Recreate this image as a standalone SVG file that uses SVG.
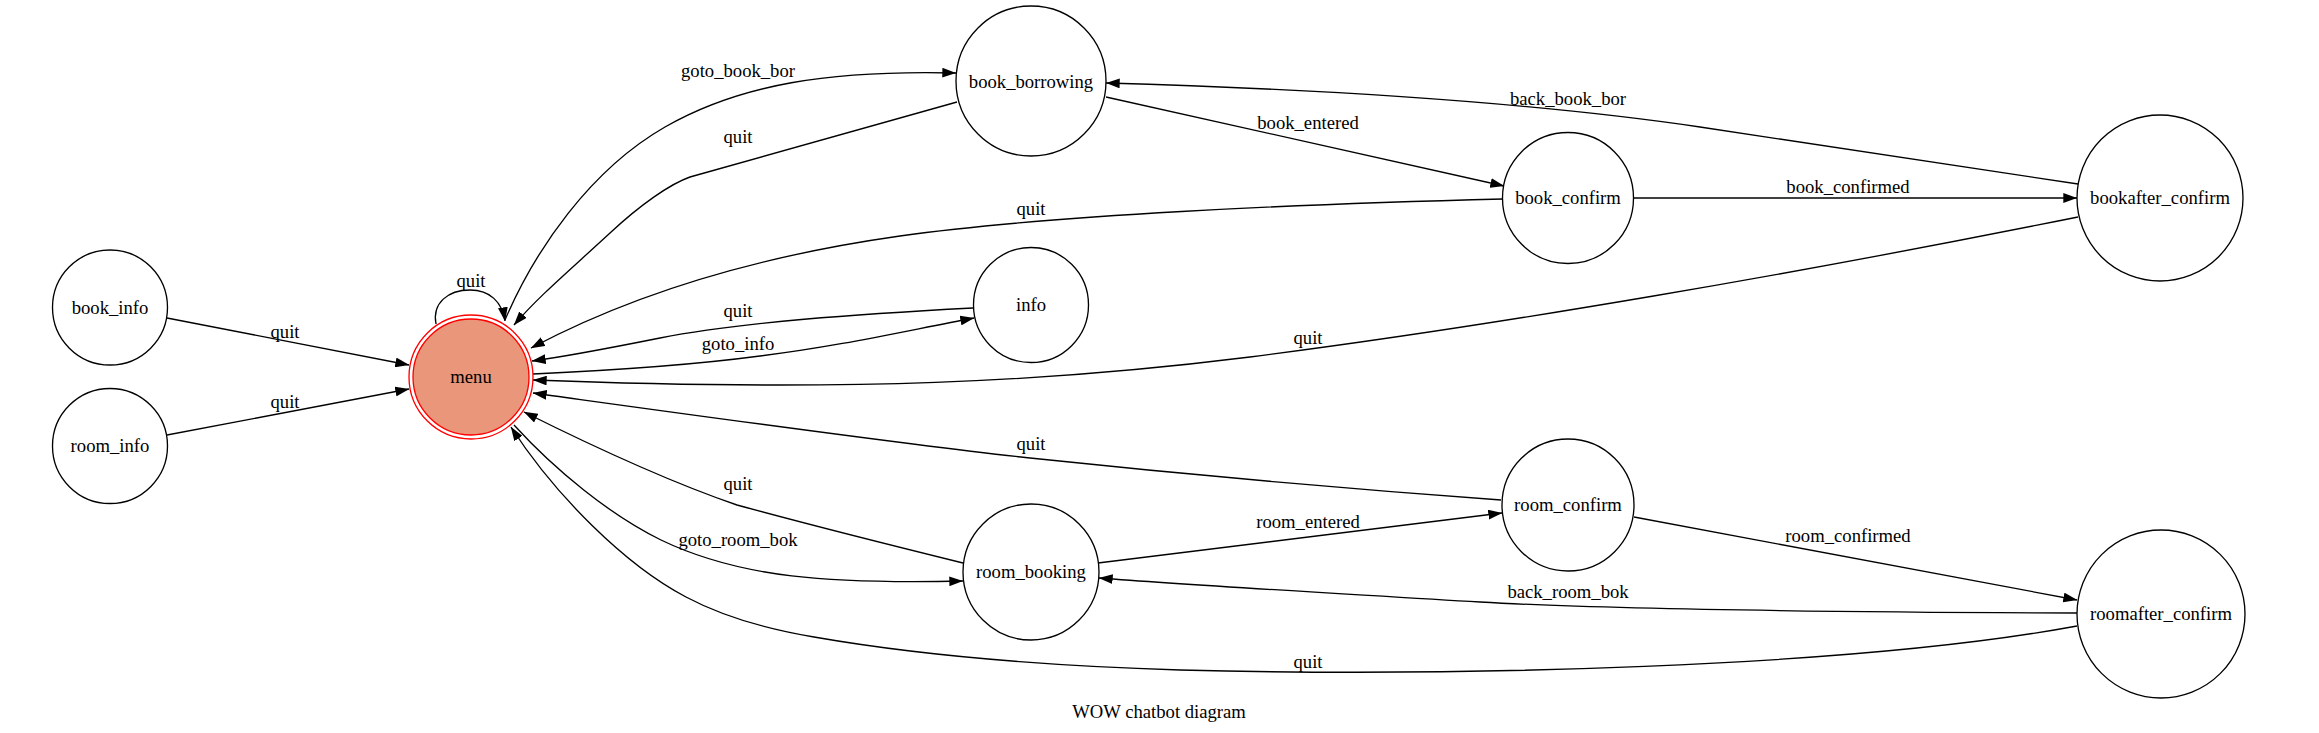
<svg xmlns="http://www.w3.org/2000/svg" width="2319" height="733" viewBox="0 0 2319 733">
<style>
.n{fill:#ffffff;stroke:#000;stroke-width:1.33}
.e{fill:none;stroke:#000;stroke-width:1.33;marker-end:url(#ah)}
text{font-family:"Liberation Serif","Times New Roman",serif;font-size:18.67px;text-anchor:middle;fill:#000}
</style>
<defs>
<marker id="ah" markerUnits="userSpaceOnUse" markerWidth="14" markerHeight="10" viewBox="0 0 13.3 9.3" refX="13" refY="4.65" orient="auto">
<path d="M0,0 L13.3,4.65 L0,9.3 z" fill="#000"/>
</marker>
</defs>
<rect width="2319" height="733" fill="#fff"/>
<g id="edges">
<path class="e" d="M436,324 C432,303 448,290 470,290 C490,290 502,302 505,321"/>
<text x="471" y="287">quit</text>
<path class="e" d="M167,318 L409,365"/>
<text x="285" y="338">quit</text>
<path class="e" d="M167,435 L409,389"/>
<text x="285" y="408">quit</text>
<path class="e" d="M505,320 C535,250 590,170 665,127 C740,84 830,70 956,73"/>
<text x="738" y="77">goto_book_bor</text>
<path class="e" d="M957,102 L690,177 C670,184 640,205 610,233 C570,270 540,295 514,325"/>
<text x="738" y="143">quit</text>
<path class="e" d="M1503,199 C1300,204 1050,215 900,236 C780,253 650,285 531,348"/>
<text x="1031" y="215">quit</text>
<path class="e" d="M973,308 C860,314 740,322 660,338 C610,348 570,356 532,361"/>
<text x="738" y="317">quit</text>
<path class="e" d="M533,374 C620,370 700,364 760,356 C840,346 900,332 974,318"/>
<text x="738" y="350">goto_info</text>
<path class="e" d="M2078,217 C1800,273 1500,325 1250,357 C1050,382 850,392 533,380"/>
<text x="1308" y="344">quit</text>
<path class="e" d="M1106,97 L1504,186"/>
<text x="1308" y="129">book_entered</text>
<path class="e" d="M1633,198 L2077,198"/>
<text x="1848" y="193">book_confirmed</text>
<path class="e" d="M2078,184 L1700,127 C1550,105 1350,90 1106,83"/>
<text x="1568" y="105">back_book_bor</text>
<path class="e" d="M963,563 C890,545 810,525 737,505 C670,482 600,450 524,412"/>
<text x="738" y="490">quit</text>
<path class="e" d="M514,425 C555,470 610,515 661,540 C740,578 830,584 963,581"/>
<text x="738" y="546">goto_room_bok</text>
<path class="e" d="M2077,626 C1850,668 1450,677 1180,670 C1020,665 900,652 814,637 C760,628 720,615 686,597 C625,565 555,495 511,427"/>
<text x="1308" y="668">quit</text>
<path class="e" d="M1501,500 C1350,489 1200,476 1030,458 C900,444 700,416 533,393"/>
<text x="1031" y="450">quit</text>
<path class="e" d="M1098,563 L1502,513"/>
<text x="1308" y="528">room_entered</text>
<path class="e" d="M1634,517 L2077,600"/>
<text x="1848" y="542">room_confirmed</text>
<path class="e" d="M2077,613 C1800,612 1600,609 1480,602 C1350,594 1200,586 1099,578"/>
<text x="1568" y="598">back_room_bok</text>
</g>
<g id="book_info"><circle class="n" cx="110" cy="307.5" r="57.5"/><text x="110" y="314">book_info</text></g>
<g id="room_info"><circle class="n" cx="110" cy="446" r="57.5"/><text x="110" y="452">room_info</text></g>
<g id="menu"><circle cx="471" cy="377" r="62" fill="none" stroke="#ff0000" stroke-width="1.33"/><circle cx="471" cy="377" r="58" fill="#e9967a" stroke="#ff0000" stroke-width="1.33"/><text x="471" y="383">menu</text></g>
<g id="book_borrowing"><circle class="n" cx="1031" cy="81" r="75"/><text x="1031" y="88">book_borrowing</text></g>
<g id="info"><circle class="n" cx="1031" cy="305" r="57.5"/><text x="1031" y="311">info</text></g>
<g id="book_confirm"><circle class="n" cx="1568" cy="198" r="65.5"/><text x="1568" y="204">book_confirm</text></g>
<g id="bookafter_confirm"><circle class="n" cx="2160" cy="198" r="83"/><text x="2160" y="204">bookafter_confirm</text></g>
<g id="room_confirm"><circle class="n" cx="1568" cy="505" r="66"/><text x="1568" y="511">room_confirm</text></g>
<g id="room_booking"><circle class="n" cx="1031" cy="572" r="68"/><text x="1031" y="578">room_booking</text></g>
<g id="roomafter_confirm"><circle class="n" cx="2161" cy="614" r="84"/><text x="2161" y="620">roomafter_confirm</text></g>
<text id="title" x="1159" y="718">WOW chatbot diagram</text>
</svg>
